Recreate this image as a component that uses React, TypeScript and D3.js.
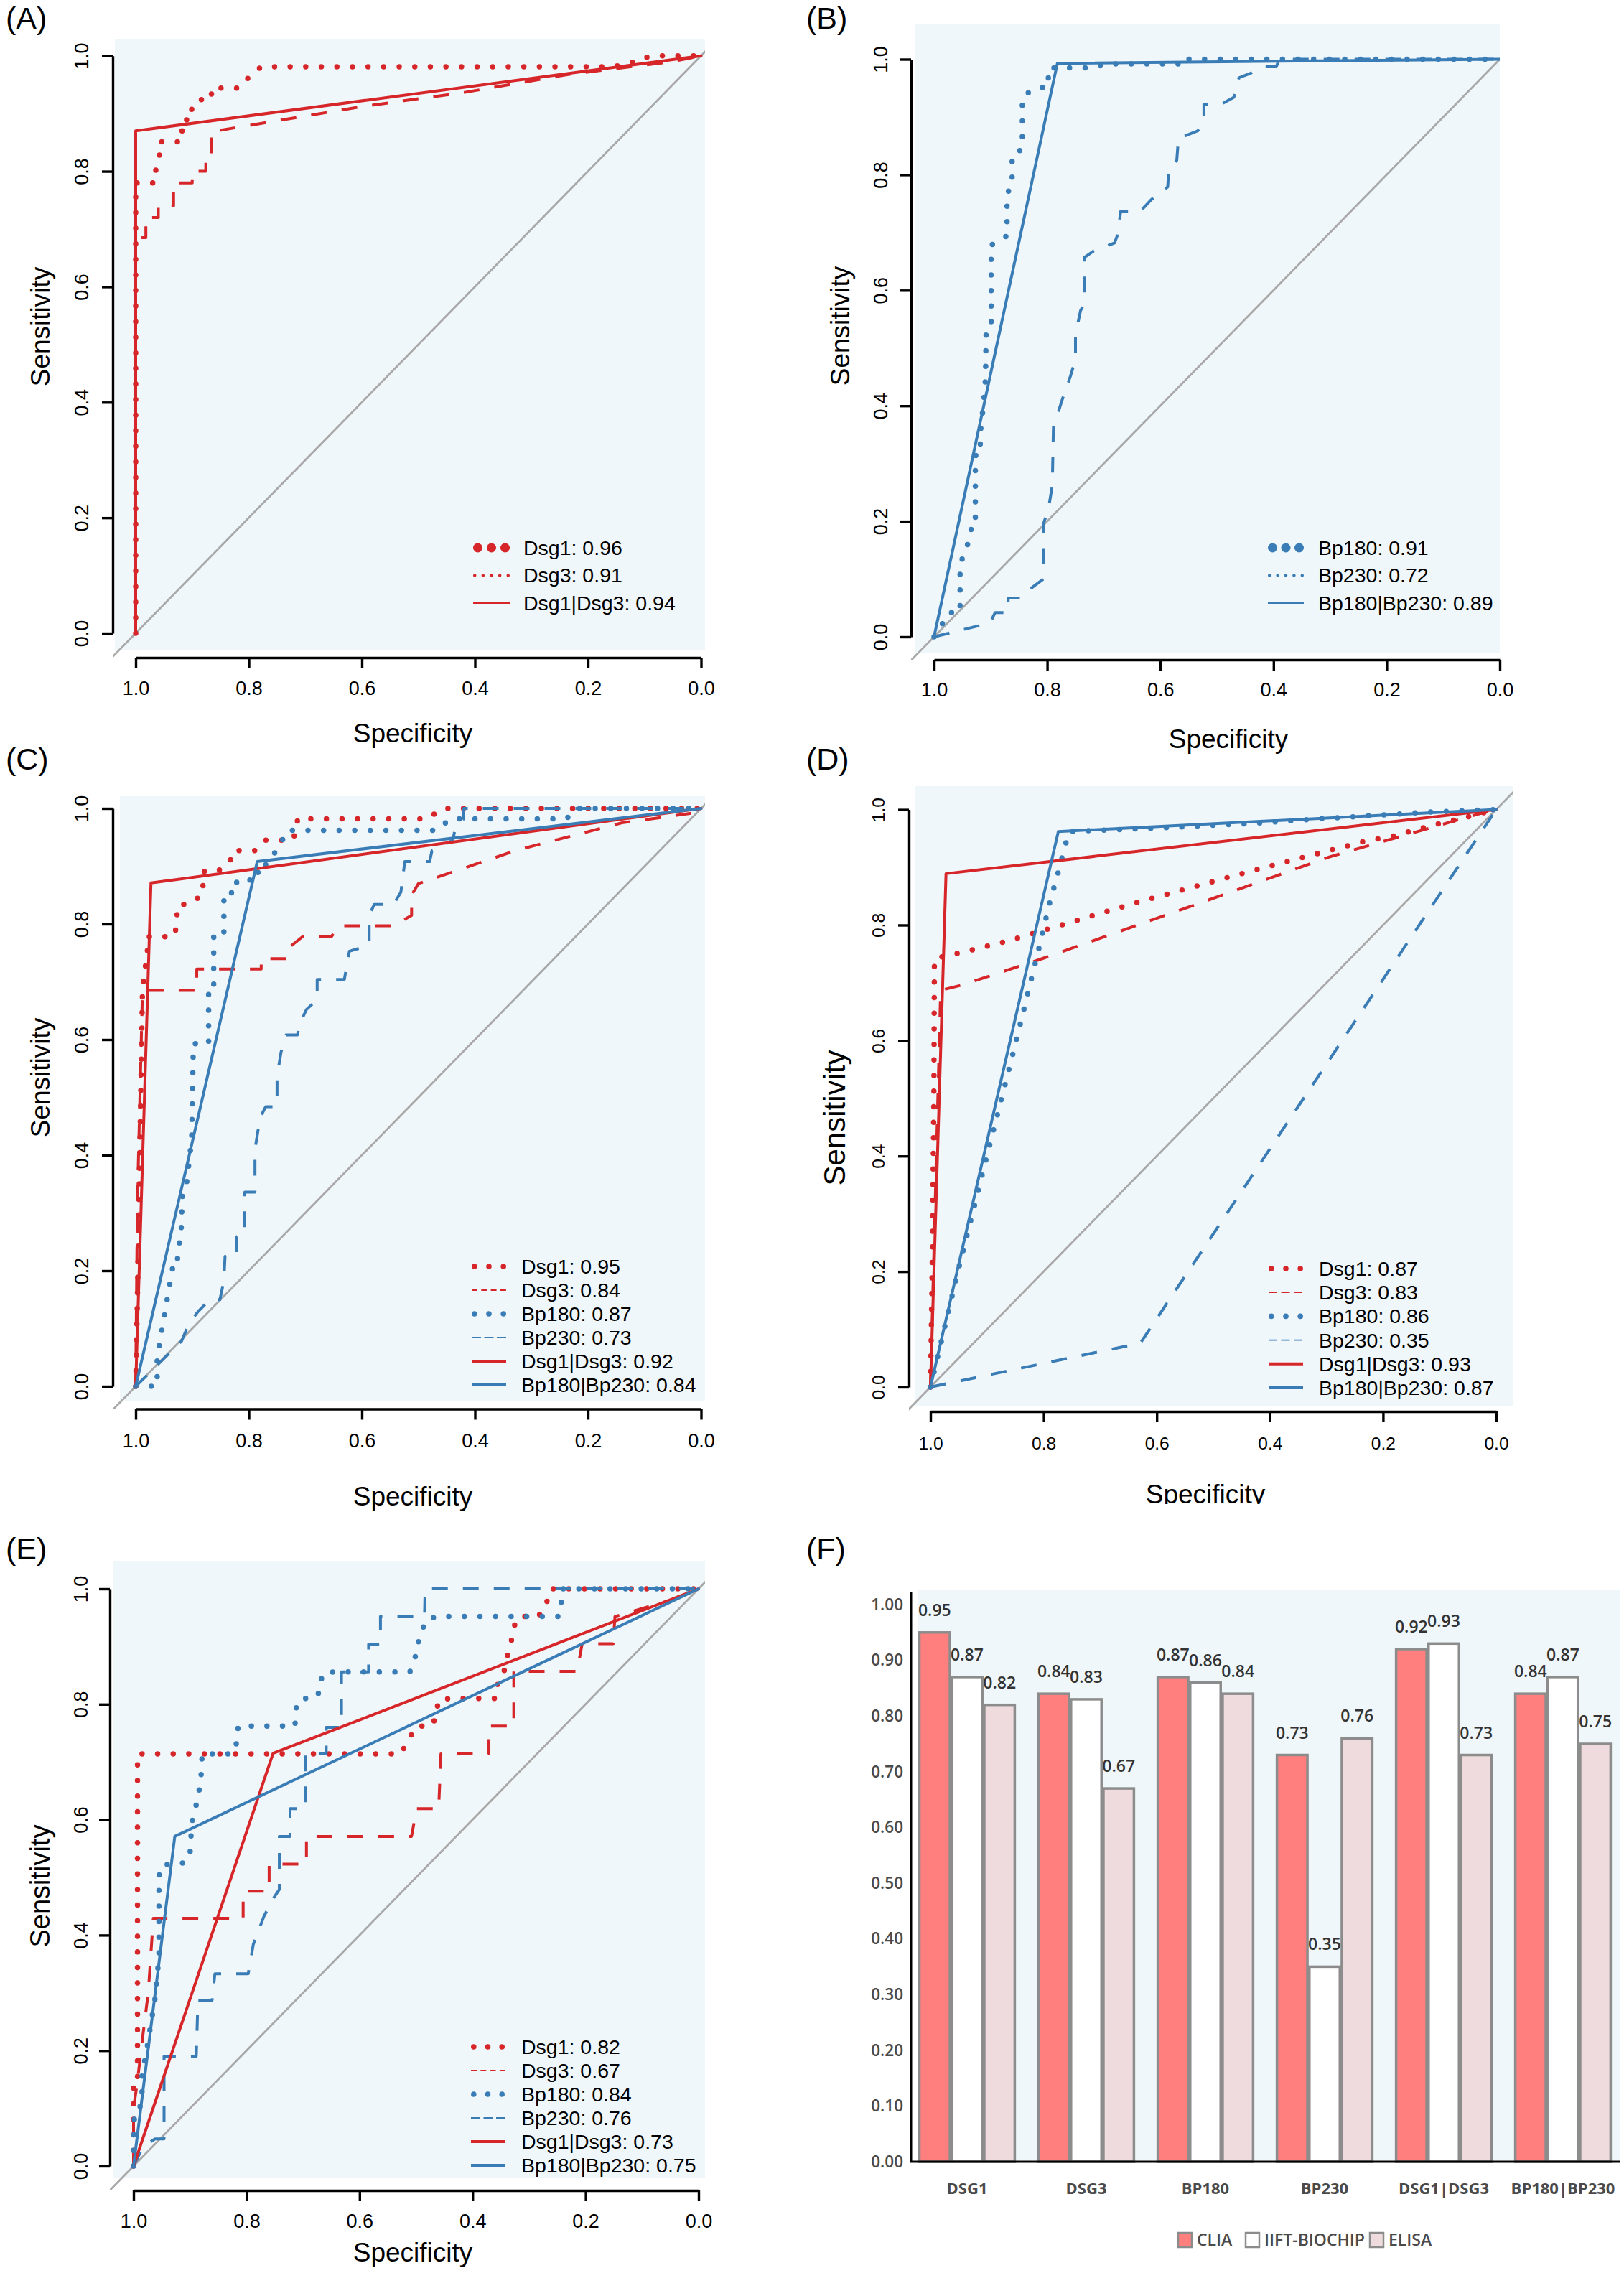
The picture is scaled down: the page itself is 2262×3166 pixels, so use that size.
import * as d3 from "d3";
import { useEffect, useRef } from "react";

type Pt = [number, number];

const RED = "#D62629";
const BLUE = "#3A7DB6";
const PANEL_BG = "#F0F7FA";
const FONT = "'Liberation Sans', Arial, sans-serif";
const BAR_FONT = "'Open Sans', 'Liberation Sans', sans-serif";

const rocTicks = [0, 0.2, 0.4, 0.6, 0.8, 1.0];

// ---- (A) Dsg markers, pemphigus group
const aNames = ["Dsg1", "Dsg3", "Dsg1|Dsg3"];
const aAuc = [0.96, 0.91, 0.94];
const aDsg1: Pt[] = [[1, 0], [1, 0.78], [0.965, 0.78], [0.965, 0.8], [0.958, 0.824], [0.958, 0.851], [0.918, 0.851], [0.918, 0.889], [0.901, 0.889], [0.901, 0.907], [0.892, 0.924], [0.866, 0.924], [0.866, 0.944], [0.817, 0.944], [0.799, 0.964], [0.778, 0.981], [0.16, 0.981], [0.13, 0.985], [0.105, 0.996], [0.082, 1], [0, 1]];
const aDsg3: Pt[] = [[1, 0], [1, 0.685], [0.982, 0.685], [0.982, 0.72], [0.96, 0.72], [0.96, 0.74], [0.933, 0.74], [0.933, 0.78], [0.9, 0.78], [0.9, 0.8], [0.876, 0.8], [0.876, 0.82], [0.866, 0.82], [0.866, 0.87], [0.857, 0.87], [0.6, 0.912], [0.416, 0.937], [0.233, 0.968], [0.05, 0.99], [0, 1]];
const aCombo: Pt[] = [[1, 0], [1, 0.87], [0, 1]];

// ---- (B) Bp markers, pemphigoid group
const bNames = ["Bp180", "Bp230", "Bp180|Bp230"];
const bAuc = [0.91, 0.72, 0.89];
const bBp180: Pt[] = [[1, 0], [0.988, 0.018], [0.974, 0.042], [0.954, 0.042], [0.954, 0.124], [0.946, 0.147], [0.936, 0.172], [0.933, 0.2], [0.927, 0.2], [0.927, 0.314], [0.919, 0.314], [0.917, 0.369], [0.913, 0.397], [0.909, 0.449], [0.908, 0.529], [0.899, 0.538], [0.899, 0.678], [0.885, 0.687], [0.871, 0.694], [0.871, 0.769], [0.862, 0.778], [0.862, 0.835], [0.844, 0.844], [0.844, 0.934], [0.835, 0.941], [0.817, 0.951], [0.798, 0.951], [0.798, 0.985], [0.72, 0.985], [0.695, 0.992], [0.56, 0.992], [0.56, 1], [0, 1]];
const bBp230: Pt[] = [[1, 0], [0.901, 0.024], [0.892, 0.042], [0.869, 0.042], [0.869, 0.067], [0.844, 0.067], [0.826, 0.086], [0.807, 0.1], [0.807, 0.195], [0.798, 0.22], [0.791, 0.262], [0.789, 0.363], [0.773, 0.412], [0.759, 0.451], [0.75, 0.48], [0.75, 0.523], [0.741, 0.565], [0.734, 0.577], [0.734, 0.657], [0.718, 0.668], [0.681, 0.682], [0.676, 0.695], [0.67, 0.737], [0.635, 0.737], [0.617, 0.756], [0.603, 0.768], [0.587, 0.779], [0.585, 0.811], [0.571, 0.825], [0.568, 0.863], [0.534, 0.876], [0.523, 0.892], [0.523, 0.922], [0.493, 0.922], [0.47, 0.934], [0.461, 0.968], [0.44, 0.976], [0.42, 0.987], [0.395, 0.987], [0.392, 0.995], [0.374, 1], [0, 1]];
const bCombo: Pt[] = [[1, 0], [0.782, 0.993], [0, 1]];

// ---- (C)
const allNames = ["Dsg1", "Dsg3", "Bp180", "Bp230", "Dsg1|Dsg3", "Bp180|Bp230"];
const cAuc = [0.95, 0.84, 0.87, 0.73, 0.92, 0.84];
const cDsg1: Pt[] = [[1, 0], [0.997, 0.15], [0.992, 0.45], [0.988, 0.687], [0.979, 0.756], [0.979, 0.778], [0.933, 0.778], [0.927, 0.797], [0.927, 0.815], [0.924, 0.834], [0.906, 0.834], [0.881, 0.851], [0.881, 0.891], [0.855, 0.891], [0.833, 0.908], [0.828, 0.927], [0.789, 0.927], [0.771, 0.945], [0.723, 0.945], [0.714, 0.965], [0.714, 0.982], [0.485, 0.982], [0.457, 1], [0, 1]];
const cDsg3: Pt[] = [[1, 0], [0.997, 0.318], [0.988, 0.685], [0.892, 0.685], [0.892, 0.722], [0.778, 0.722], [0.778, 0.74], [0.732, 0.74], [0.728, 0.76], [0.705, 0.778], [0.654, 0.778], [0.64, 0.797], [0.544, 0.797], [0.512, 0.815], [0.512, 0.85], [0.5, 0.87], [0.325, 0.928], [0.14, 0.975], [0.014, 0.992], [0, 1]];
const cBp180: Pt[] = [[1, 0], [0.962, 0], [0.962, 0.05], [0.949, 0.124], [0.94, 0.175], [0.935, 0.2], [0.935, 0.221], [0.926, 0.221], [0.919, 0.277], [0.918, 0.326], [0.91, 0.351], [0.901, 0.427], [0.898, 0.593], [0.871, 0.593], [0.871, 0.686], [0.862, 0.686], [0.862, 0.778], [0.844, 0.778], [0.844, 0.854], [0.825, 0.854], [0.825, 0.872], [0.798, 0.872], [0.798, 0.889], [0.77, 0.889], [0.77, 0.908], [0.75, 0.927], [0.741, 0.944], [0.732, 0.962], [0.467, 0.962], [0.444, 0.982], [0.238, 0.982], [0.22, 1], [0, 1]];
const cBp230: Pt[] = [[1, 0], [0.919, 0.078], [0.906, 0.108], [0.89, 0.129], [0.869, 0.15], [0.851, 0.15], [0.844, 0.183], [0.842, 0.225], [0.821, 0.225], [0.821, 0.259], [0.807, 0.263], [0.807, 0.336], [0.789, 0.336], [0.789, 0.41], [0.78, 0.465], [0.77, 0.484], [0.75, 0.484], [0.75, 0.536], [0.743, 0.578], [0.734, 0.608], [0.714, 0.608], [0.709, 0.629], [0.698, 0.652], [0.679, 0.669], [0.679, 0.704], [0.631, 0.704], [0.622, 0.753], [0.587, 0.763], [0.587, 0.815], [0.578, 0.834], [0.544, 0.834], [0.531, 0.855], [0.524, 0.908], [0.48, 0.908], [0.476, 0.927], [0.439, 0.945], [0.435, 0.965], [0.42, 0.982], [0.42, 1], [0, 1]];
const cDsgCombo: Pt[] = [[1, 0], [0.973, 0.871], [0, 1]];
const cBpCombo: Pt[] = [[1, 0], [0.785, 0.908], [0, 1]];

// ---- (D)
const dAuc = [0.87, 0.83, 0.86, 0.35, 0.93, 0.87];
const dDsg1: Pt[] = [[1, 0], [0.997, 0.2], [0.994, 0.5], [0.993, 0.742], [0.938, 0.754], [0.861, 0.773], [0.81, 0.788], [0.732, 0.811], [0.625, 0.842], [0.521, 0.87], [0.443, 0.891], [0.338, 0.918], [0.233, 0.945], [0.182, 0.954], [0.104, 0.975], [0.052, 0.987], [0, 1]];
const dDsg3: Pt[] = [[1, 0], [0.982, 0.687], [0.945, 0.696], [0.808, 0.74], [0.57, 0.822], [0.295, 0.918], [0.029, 0.993], [0, 1]];
const dBp180: Pt[] = [[1, 0], [0.951, 0.202], [0.899, 0.405], [0.853, 0.582], [0.808, 0.761], [0.79, 0.836], [0.776, 0.885], [0.762, 0.937], [0.755, 0.962], [0.6, 0.968], [0.432, 0.976], [0.295, 0.985], [0.112, 0.996], [0, 1]];
const dBp230: Pt[] = [[1, 0], [0.629, 0.076], [0, 1]];
const dDsgCombo: Pt[] = [[1, 0], [0.9725, 0.889], [0, 1]];
const dBpCombo: Pt[] = [[1, 0], [0.774, 0.962], [0, 1]];

// ---- (E)
const eAuc = [0.82, 0.67, 0.84, 0.76, 0.73, 0.75];
const eDsg1: Pt[] = [[1, 0], [1, 0.14], [0.993, 0.14], [0.993, 0.714], [0.527, 0.714], [0.513, 0.739], [0.499, 0.762], [0.472, 0.762], [0.462, 0.785], [0.462, 0.806], [0.44, 0.81], [0.359, 0.81], [0.355, 0.839], [0.343, 0.86], [0.339, 0.881], [0.332, 0.906], [0.327, 0.934], [0.318, 0.952], [0.284, 0.952], [0.27, 0.969], [0.266, 0.99], [0.261, 1], [0, 1]];
const eDsg3: Pt[] = [[1, 0], [1, 0.1], [0.994, 0.14], [0.983, 0.23], [0.974, 0.3], [0.965, 0.429], [0.806, 0.429], [0.806, 0.476], [0.76, 0.476], [0.76, 0.523], [0.694, 0.523], [0.694, 0.571], [0.508, 0.571], [0.499, 0.619], [0.46, 0.619], [0.456, 0.714], [0.371, 0.714], [0.371, 0.762], [0.327, 0.762], [0.327, 0.857], [0.215, 0.857], [0.206, 0.905], [0.151, 0.905], [0.148, 0.952], [0.05, 0.98], [0, 1]];
const eBp180: Pt[] = [[1, 0], [1, 0.044], [0.998, 0.096], [0.985, 0.106], [0.985, 0.157], [0.975, 0.211], [0.971, 0.236], [0.962, 0.29], [0.955, 0.362], [0.955, 0.49], [0.954, 0.517], [0.934, 0.525], [0.908, 0.525], [0.9, 0.542], [0.897, 0.594], [0.886, 0.638], [0.882, 0.663], [0.879, 0.691], [0.879, 0.714], [0.824, 0.714], [0.817, 0.735], [0.815, 0.762], [0.714, 0.762], [0.714, 0.789], [0.705, 0.81], [0.678, 0.81], [0.668, 0.827], [0.667, 0.852], [0.646, 0.856], [0.511, 0.856], [0.502, 0.877], [0.499, 0.902], [0.49, 0.919], [0.485, 0.944], [0.464, 0.952], [0.247, 0.952], [0.243, 0.971], [0.243, 1], [0, 1]];
const eBp230: Pt[] = [[1, 0], [0.983, 0.034], [0.962, 0.047], [0.946, 0.047], [0.946, 0.19], [0.889, 0.19], [0.886, 0.287], [0.861, 0.287], [0.856, 0.333], [0.797, 0.333], [0.788, 0.384], [0.769, 0.433], [0.751, 0.466], [0.742, 0.479], [0.742, 0.571], [0.723, 0.571], [0.723, 0.619], [0.696, 0.619], [0.696, 0.714], [0.659, 0.714], [0.659, 0.76], [0.632, 0.76], [0.632, 0.856], [0.584, 0.856], [0.584, 0.904], [0.563, 0.904], [0.563, 0.952], [0.485, 0.952], [0.484, 1], [0, 1]];
const eDsgCombo: Pt[] = [[1, 0], [0.753, 0.715], [0, 1]];
const eBpCombo: Pt[] = [[1, 0], [0.927, 0.571], [0, 1]];

// ---- (F) AUC comparison bars
const fCategories = ["DSG1", "DSG3", "BP180", "BP230", "DSG1|DSG3", "BP180|BP230"];
const fSeries = ["CLIA", "IIFT-BIOCHIP", "ELISA"];
const fClia = [0.95, 0.84, 0.87, 0.73, 0.92, 0.84];
const fIift = [0.87, 0.83, 0.86, 0.35, 0.93, 0.87];
const fElisa = [0.82, 0.67, 0.84, 0.76, 0.73, 0.75];
const fTicks = [0, 0.1, 0.2, 0.3, 0.4, 0.5, 0.6, 0.7, 0.8, 0.9, 1.0];

// styles
const lineStyles: any = {
  dot: { w: 7.5, dash: "0 21.7", cap: "round" },
  dash: { w: 4, dash: "22 21", cap: "butt" },
  solid: { w: 4, dash: null, cap: "round" },
};
const sampleStyles: any = {
  bigdots: { kind: "dots", n: 3, r: 6.5 },
  smalldots: { kind: "dots", n: 5, r: 2.2 },
  dots: { kind: "dots", n: 3, r: 3.8 },
  dashShort: { kind: "line", w: 1.8, dash: "8 5.3" },
  dashLong: { kind: "line", w: 1.8, dash: "13 4.5" },
  dash3: { kind: "line", w: 1.8, dash: "12 5.5" },
  thin: { kind: "line", w: 2 },
  thick: { kind: "line", w: 4 },
};
const barFill: any = { CLIA: "#FF7F7F", "IIFT-BIOCHIP": "#FFFFFF", ELISA: "#EFDBDD" };

// panel layouts (pixels)
const boxA = { lx: 8, ly: 25, bg: [160, 55, 982, 906], axX: 157, yTop: 77.7, yBot: 882, axY: 916, xL: 189, xR: 976.5, tickFont: 27, xTickCY: 958.6, yTickCX: 113, xlab: [575, 1021], xlabFont: 37, ylab: [56, 455], ylabFont: 37, leg: [659, 710, 729, 763, 38.5] };
const boxB = { lx: 1123, ly: 25, bg: [1274, 34, 2089, 909], axX: 1269, yTop: 82.5, yBot: 887, axY: 919, xL: 1301, xR: 2089, tickFont: 27, xTickCY: 960, yTickCX: 1226, xlab: [1711, 1029], xlabFont: 37, ylab: [1170, 454], ylabFont: 37, leg: [1766, 1816, 1836, 763, 38.5] };
const boxC = { lx: 8, ly: 1057, bg: [167, 1109, 982, 1951], axX: 157, yTop: 1126, yBot: 1931, axY: 1962.5, xL: 189, xR: 976.5, tickFont: 27, xTickCY: 2006, yTickCX: 113, xlab: [575, 2084], xlabFont: 37, ylab: [56, 1501], ylabFont: 37, leg: [657, 705, 726, 1764, 33] };
const boxD = { lx: 1123, ly: 1057, bg: [1274, 1095, 2108, 1959], axX: 1266, yTop: 1127.6, yBot: 1932, axY: 1966, xL: 1296, xR: 2084, tickFont: 24.5, xTickCY: 2010, yTickCX: 1223, xlab: [1679, 2081], xlabFont: 37, xlabClip: 2095, ylab: [1162, 1557], ylabFont: 42, leg: [1767, 1815, 1837, 1767, 33.2] };
const boxE = { lx: 8, ly: 2157, bg: [157, 2174, 982, 3034], axX: 153, yTop: 2213, yBot: 3017, axY: 3051, xL: 186, xR: 973, tickFont: 27, xTickCY: 3093, yTickCX: 112, xlab: [575, 3137], xlabFont: 37, ylab: [56, 2627], ylabFont: 38, leg: [656, 703, 726, 2851, 33] };

const rocPanels = [
  { key: "A", label: "(A)", box: boxA, names: aNames, auc: aAuc, curves: [aDsg1, aDsg3, aCombo], colors: [RED, RED, RED], styles: ["dot", "dash", "solid"], samples: ["bigdots", "smalldots", "thin"] },
  { key: "B", label: "(B)", box: boxB, names: bNames, auc: bAuc, curves: [bBp180, bBp230, bCombo], colors: [BLUE, BLUE, BLUE], styles: ["dot", "dash", "solid"], samples: ["bigdots", "smalldots", "thin"] },
  { key: "C", label: "(C)", box: boxC, names: allNames, auc: cAuc, curves: [cDsg1, cDsg3, cBp180, cBp230, cDsgCombo, cBpCombo], colors: [RED, RED, BLUE, BLUE, RED, BLUE], styles: ["dot", "dash", "dot", "dash", "solid", "solid"], samples: ["dots", "dashShort", "dots", "dashLong", "thick", "thick"] },
  { key: "D", label: "(D)", box: boxD, names: allNames, auc: dAuc, curves: [dDsg1, dDsg3, dBp180, dBp230, dDsgCombo, dBpCombo], colors: [RED, RED, BLUE, BLUE, RED, BLUE], styles: ["dot", "dash", "dot", "dash", "solid", "solid"], samples: ["dots", "dash3", "dots", "dash3", "thick", "thick"] },
  { key: "E", label: "(E)", box: boxE, names: allNames, auc: eAuc, curves: [eDsg1, eDsg3, eBp180, eBp230, eDsgCombo, eBpCombo], colors: [RED, RED, BLUE, BLUE, RED, BLUE], styles: ["dot", "dash", "dot", "dash", "solid", "solid"], samples: ["dots", "dashShort", "dots", "dashLong", "thick", "thick"] },
];

function styleAxis(sel: any, size: number) {
  sel.attr("font-family", FONT).attr("font-size", size);
  sel.select(".domain").attr("stroke", "#000").attr("stroke-width", 3.4);
  sel.selectAll(".tick line").attr("stroke", "#000").attr("stroke-width", 3.4);
  sel.selectAll(".tick text").attr("fill", "#000");
}

function drawSample(g: any, name: string, color: string, x0: number, x1: number, cy: number) {
  const s = sampleStyles[name];
  if (s.kind === "dots") {
    const px = d3.scalePoint<number>().domain(d3.range(s.n)).range([x0 + s.r, x1 - s.r]);
    g.selectAll(null).data(d3.range(s.n)).join("circle")
      .attr("cx", (d: number) => px(d)).attr("cy", cy).attr("r", s.r).attr("fill", color);
  } else {
    g.append("line").attr("x1", x0).attr("x2", x1).attr("y1", cy).attr("y2", cy)
      .attr("stroke", color).attr("stroke-width", s.w).attr("stroke-dasharray", s.dash || null);
  }
}

function drawRoc(svg: any, p: any) {
  const b = p.box;
  const g = svg.append("g");
  const x = d3.scaleLinear().domain([1, 0]).range([b.xL, b.xR]);
  const y = d3.scaleLinear().domain([0, 1]).range([b.yBot, b.yTop]);

  g.append("rect").attr("x", b.bg[0]).attr("y", b.bg[1])
    .attr("width", b.bg[2] - b.bg[0]).attr("height", b.bg[3] - b.bg[1]).attr("fill", PANEL_BG);

  const clipId = `plot-${p.key}`;
  g.append("clipPath").attr("id", clipId).append("rect")
    .attr("x", b.axX).attr("y", b.bg[1]).attr("width", b.bg[2] - b.axX).attr("height", b.axY - b.bg[1]);
  const plot = g.append("g").attr("clip-path", `url(#${clipId})`);

  // chance line
  plot.append("line").attr("x1", x(1.3)).attr("y1", y(-0.3)).attr("x2", x(-0.3)).attr("y2", y(1.3))
    .attr("stroke", "#A8A8A8").attr("stroke-width", 2.8);

  const line = d3.line<Pt>().x((d) => x(d[0])).y((d) => y(d[1]));
  p.curves.forEach((pts: Pt[], i: number) => {
    const st = lineStyles[p.styles[i]];
    plot.append("path").attr("d", line(pts)).attr("fill", "none")
      .attr("stroke", p.colors[i]).attr("stroke-width", st.w)
      .attr("stroke-dasharray", st.dash).attr("stroke-linecap", st.cap).attr("stroke-linejoin", "round");
  });

  const cap = 0.352 * b.tickFont;
  const gx = g.append("g").attr("transform", `translate(0,${b.axY})`)
    .call(d3.axisBottom(x).tickValues(rocTicks).tickFormat(d3.format(".1f"))
      .tickSize(15).tickSizeOuter(0).tickPadding(b.xTickCY - b.axY - 15 - cap));
  styleAxis(gx, b.tickFont);

  const gy = g.append("g").attr("transform", `translate(${b.axX},0)`)
    .call(d3.axisLeft(y).tickValues(rocTicks).tickFormat(d3.format(".1f")).tickSize(15).tickSizeOuter(0));
  styleAxis(gy, b.tickFont);
  gy.selectAll(".tick text").attr("transform", "rotate(-90)").attr("x", 0)
    .attr("y", b.yTickCX + 0.358 * b.tickFont - b.axX).attr("dy", null).attr("text-anchor", "middle");

  const xl = g.append("text").attr("x", b.xlab[0]).attr("y", b.xlab[1]).attr("dy", "0.35em")
    .attr("text-anchor", "middle").attr("font-family", FONT).attr("font-size", b.xlabFont).text("Specificity");
  if (b.xlabClip) {
    const cid = `xlab-${p.key}`;
    g.append("clipPath").attr("id", cid).append("rect")
      .attr("x", b.xlab[0] - 200).attr("y", b.xlab[1] - 60).attr("width", 400).attr("height", b.xlabClip - b.xlab[1] + 60);
    xl.attr("clip-path", `url(#${cid})`);
  }
  g.append("text").attr("transform", `translate(${b.ylab[0]},${b.ylab[1]}) rotate(-90)`).attr("dy", "0.35em")
    .attr("text-anchor", "middle").attr("font-family", FONT).attr("font-size", b.ylabFont).text("Sensitivity");

  svg.append("text").attr("x", b.lx).attr("y", b.ly).attr("dy", "0.35em")
    .attr("font-family", FONT).attr("font-size", 43).text(p.label);

  const [lx0, lx1, tx, ly0, ldy] = b.leg;
  p.samples.forEach((s: string, i: number) => {
    const cy = ly0 + i * ldy;
    drawSample(g, s, p.colors[i], lx0, lx1, cy);
    g.append("text").attr("x", tx).attr("y", cy).attr("dy", "0.35em")
      .attr("font-family", FONT).attr("font-size", 28.5)
      .text(`${p.names[i]}: ${p.auc[i].toFixed(2)}`);
  });
}

function drawBars(svg: any) {
  svg.append("text").attr("x", 1123).attr("y", 2157).attr("dy", "0.35em")
    .attr("font-family", FONT).attr("font-size", 43).text("(F)");

  const g = svg.append("g").attr("font-family", BAR_FONT).attr("font-weight", 700);
  const x0 = d3.scaleBand().domain(fCategories).range([1264, 2260]).paddingInner(0.2).paddingOuter(0.1);
  const x1 = d3.scaleBand().domain(fSeries).range([0, x0.bandwidth()]).paddingInner(0.06);
  const y = d3.scaleLinear().domain([0, 1]).range([3011, 2235]);

  g.append("rect").attr("x", 1278).attr("y", 2214).attr("width", 2256 - 1278).attr("height", 3009 - 2214).attr("fill", PANEL_BG);

  const values = [fClia, fIift, fElisa];
  const rows = fCategories.flatMap((c, ci) => fSeries.map((s, si) => ({ c, s, v: values[si][ci] })));

  g.selectAll("rect.bar").data(rows).join("rect").attr("class", "bar")
    .attr("x", (d: any) => (x0(d.c) as number) + (x1(d.s) as number))
    .attr("y", (d: any) => y(d.v)).attr("width", x1.bandwidth())
    .attr("height", (d: any) => y(0) - y(d.v))
    .attr("fill", (d: any) => barFill[d.s]).attr("stroke", "#8C8C8C").attr("stroke-width", 3.5);

  g.selectAll("text.val").data(rows).join("text").attr("class", "val")
    .attr("x", (d: any) => (x0(d.c) as number) + (x1(d.s) as number) + x1.bandwidth() / 2)
    .attr("y", (d: any) => y(d.v) - 23).attr("text-anchor", "middle")
    .attr("font-size", 23).attr("font-weight", 600).attr("fill", "#333").text((d: any) => d.v.toFixed(2));

  const gy = g.append("g").attr("transform", "translate(1269,0)")
    .call(d3.axisLeft(y).tickValues(fTicks).tickFormat(d3.format(".2f")).tickSize(0).tickPadding(11));
  gy.select(".domain").remove();
  gy.attr("font-family", BAR_FONT).attr("font-size", 22.5);
  gy.selectAll(".tick text").attr("fill", "#4A4A4A").attr("font-weight", 600);

  const gx = g.append("g").attr("transform", "translate(0,3011)")
    .call(d3.axisBottom(x0).tickSize(0).tickPadding(29));
  gx.select(".domain").remove();
  gx.attr("font-family", BAR_FONT).attr("font-size", 22);
  gx.selectAll(".tick text").attr("fill", "#4A4A4A").attr("font-weight", 700);

  g.append("line").attr("x1", 1269).attr("x2", 1269).attr("y1", 2218).attr("y2", 3011).attr("stroke", "#000").attr("stroke-width", 3);
  g.append("line").attr("x1", 1267.5).attr("x2", 2256).attr("y1", 3011).attr("y2", 3011).attr("stroke", "#000").attr("stroke-width", 3);

  const legX = [1641, 1735, 1908];
  fSeries.forEach((s, i) => {
    g.append("rect").attr("x", legX[i]).attr("y", 3110).attr("width", 19).attr("height", 20)
      .attr("fill", barFill[s]).attr("stroke", "#8C8C8C").attr("stroke-width", 2.5);
    g.append("text").attr("x", legX[i] + 26).attr("y", 3120).attr("dy", "0.36em")
      .attr("font-size", 23).attr("font-weight", 600).attr("fill", "#4A4A4A").text(s);
  });
}

export default function App() {
  const ref = useRef<SVGSVGElement | null>(null);

  useEffect(() => {
    const svg = d3.select(ref.current);
    svg.selectAll("*").remove();
    rocPanels.forEach((p) => drawRoc(svg, p));
    drawBars(svg);
  }, []);

  return (
    <svg
      ref={ref}
      width={2262}
      height={3166}
      style={{ position: "absolute", left: 0, top: 0, background: "#fff" }}
    />
  );
}
